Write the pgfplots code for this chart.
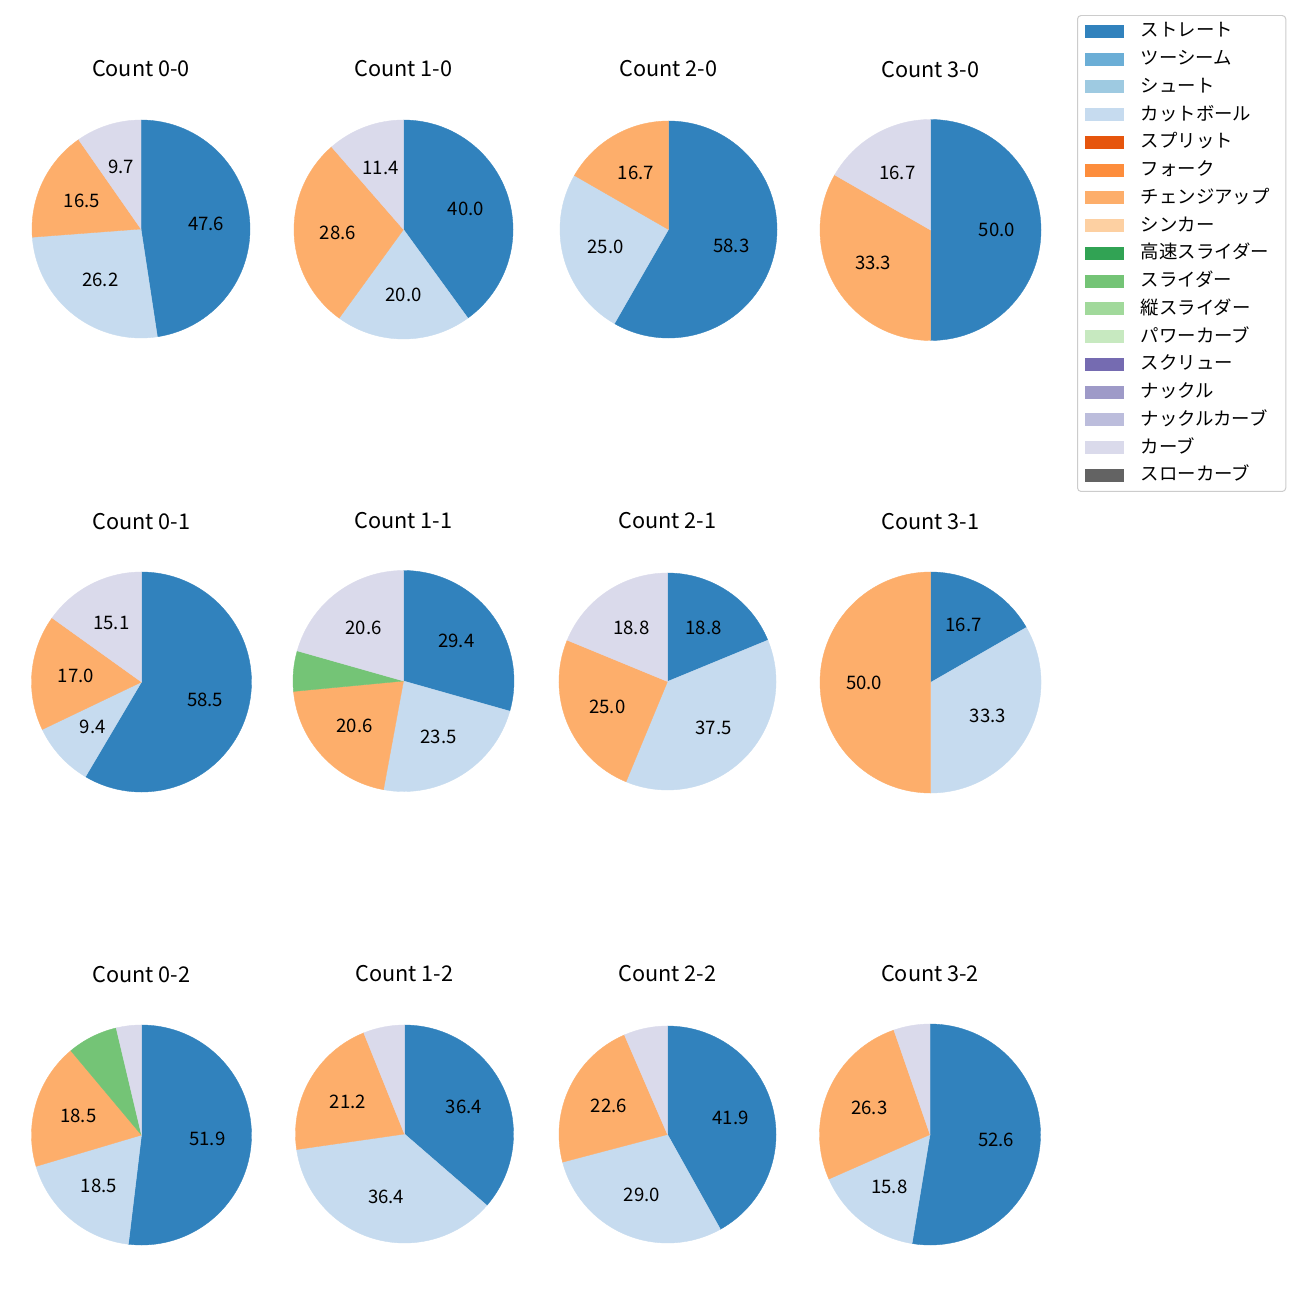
\documentclass[border=0pt]{standalone}
\usepackage{pgfplots}
\pgfplotsset{compat=1.18}
\usepackage{fontspec}
\setmainfont{Noto Sans CJK JP}

\definecolor{st}{HTML}{3182BD}
\definecolor{tw}{HTML}{6BAED6}
\definecolor{sh}{HTML}{9ECAE1}
\definecolor{ct}{HTML}{C6DBEF}
\definecolor{sp}{HTML}{E6550D}
\definecolor{fk}{HTML}{FD8D3C}
\definecolor{ch}{HTML}{FDAE6B}
\definecolor{sk}{HTML}{FDD0A2}
\definecolor{hs}{HTML}{31A354}
\definecolor{sl}{HTML}{74C476}
\definecolor{ts}{HTML}{A1D99B}
\definecolor{pc}{HTML}{C7E9C0}
\definecolor{sc}{HTML}{756BB1}
\definecolor{kn}{HTML}{9E9AC8}
\definecolor{kc}{HTML}{BCBDDC}
\definecolor{cv}{HTML}{DADAEB}
\definecolor{sw}{HTML}{636363}

\newlength\pxu
\setlength\pxu{0.553846pt}

% #1 cx px, #2 cy px, #3 radius px, #4 title, #5 slices colour/percent
\newcommand\pie[5]{%
\pgfmathsetlengthmacro\R{#3*\pxu}%
\begin{axis}[hide axis, clip=false, x=\R, y=\R,
  xmin=-1, xmax=1, ymin=-1, ymax=1,
  anchor=center, at={({#1*\pxu},{-#2*\pxu})},
  title={#4},
  title style={at={(0.5,0.5)}, anchor=center, yshift={(150*\pxu)}, font=\fontsize{12}{14}\selectfont}]
\pgfplotsextra{%
  \gdef\tot{0}%
  \foreach \c/\v in {#5}{\pgfmathsetmacro\tmpS{\tot+\v}\global\let\tot\tmpS}%
  \gdef\cum{0}%
  \foreach \c/\v in {#5}{%
    \pgfmathsetmacro\a{90-360*(\cum/\tot)}%
    \pgfmathsetmacro\b{90-360*((\cum+\v)/\tot)}%
    \pgfmathsetmacro\m{(\a+\b)/2}%
    \path[fill=\c, draw=\c, line width=0.2pt] (axis cs:0,0) -- (axis cs:{cos(\a)},{sin(\a)}) arc[start angle=\a, end angle=\b, radius=\R] -- cycle;
    \ifdim\v pt>8pt \node[font=\fontsize{10.3}{12}\selectfont, inner sep=0pt] at (axis cs:{0.6*cos(\m)},{0.6*sin(\m)}) {\v};\fi
    \pgfmathsetmacro\tmpS{\cum+\v}\global\let\cum\tmpS
  }%
}
\end{axis}}

\begin{document}
\begin{tikzpicture}
\useasboundingbox (0,0) rectangle ({1300*\pxu},{-1300*\pxu});
\fill[white] (0,0) rectangle ({1300*\pxu},{-1300*\pxu});

\pie{141}{229}{109}{Count 0-0}{st/47.6, ct/26.2, ch/16.5, cv/9.7}
\pie{403.5}{229.5}{109.5}{Count 1-0}{st/40.0, ct/20.0, ch/28.6, cv/11.4}
\pie{668.5}{229.5}{108.5}{Count 2-0}{st/58.3, ct/25.0, ch/16.7}
\pie{930.5}{230}{110.5}{Count 3-0}{st/50.0, ch/33.3, cv/16.7}

\pie{141.5}{682}{110}{Count 0-1}{st/58.5, ct/9.4, ch/17.0, cv/15.1}
\pie{403.5}{681}{110.5}{Count 1-1}{st/29.4, ct/23.5, ch/20.6, sl/5.9, cv/20.6}
\pie{667.5}{681.5}{108.5}{Count 2-1}{st/18.8, ct/37.5, ch/25.0, cv/18.8}
\pie{930.5}{682.5}{110.5}{Count 3-1}{st/16.7, ct/33.3, ch/50.0}

\pie{141.5}{1135}{110}{Count 0-2}{st/51.9, ct/18.5, ch/18.5, sl/7.4, cv/3.7}
\pie{404.5}{1134}{109}{Count 1-2}{st/36.4, ct/36.4, ch/21.2, cv/6.1}
\pie{667.5}{1134.5}{108.5}{Count 2-2}{st/41.9, ct/29.0, ch/22.6, cv/6.5}
\pie{930}{1134.5}{110.5}{Count 3-2}{st/52.6, ct/15.8, ch/26.3, cv/5.3}

\begin{axis}[hide axis, at={({1077*\pxu},{-15*\pxu})}, anchor=north west,
  width=2cm, height=2cm, scale only axis, xmin=0, xmax=1, ymin=0, ymax=1,
  legend style={at={(0,1)}, anchor=north west, draw=black!20, line width=0.55pt,
    rounded corners=2pt, fill=white, font=\fontsize{10.2}{12}\selectfont,
    inner xsep=8.9pt, inner ysep=3.85pt, row sep=5.37pt, column sep=0pt,
    nodes={inner sep=0pt, text height=8pt, text depth=2pt}},
  legend cell align=left,
  legend image code/.code={\fill[overlay, sharp corners, draw=none, #1] (-5pt,-3.6pt) rectangle (16.6pt,3.6pt); \path (0pt,0pt) (25.6pt,0pt);}]
\addlegendimage{fill=st}\addlegendentry{ストレート}
\addlegendimage{fill=tw}\addlegendentry{ツーシーム}
\addlegendimage{fill=sh}\addlegendentry{シュート}
\addlegendimage{fill=ct}\addlegendentry{カットボール}
\addlegendimage{fill=sp}\addlegendentry{スプリット}
\addlegendimage{fill=fk}\addlegendentry{フォーク}
\addlegendimage{fill=ch}\addlegendentry{チェンジアップ}
\addlegendimage{fill=sk}\addlegendentry{シンカー}
\addlegendimage{fill=hs}\addlegendentry{高速スライダー}
\addlegendimage{fill=sl}\addlegendentry{スライダー}
\addlegendimage{fill=ts}\addlegendentry{縦スライダー}
\addlegendimage{fill=pc}\addlegendentry{パワーカーブ}
\addlegendimage{fill=sc}\addlegendentry{スクリュー}
\addlegendimage{fill=kn}\addlegendentry{ナックル}
\addlegendimage{fill=kc}\addlegendentry{ナックルカーブ}
\addlegendimage{fill=cv}\addlegendentry{カーブ}
\addlegendimage{fill=sw}\addlegendentry{スローカーブ}
\end{axis}
\end{tikzpicture}
\end{document}
